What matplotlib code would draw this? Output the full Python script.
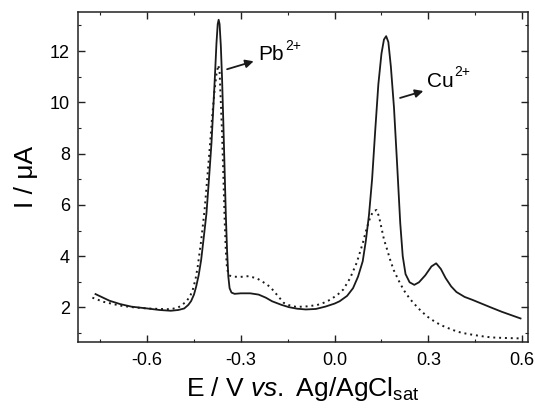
import numpy as np
import matplotlib.pyplot as plt
from matplotlib.ticker import MultipleLocator

plt.rcParams['font.family'] = ['Liberation Sans', 'DejaVu Sans']
plt.rcParams['mathtext.fontset'] = 'custom'
plt.rcParams['mathtext.rm'] = 'Liberation Sans'
plt.rcParams['mathtext.it'] = 'Liberation Sans:italic'

# solid curve
e_solid = [-0.765, -0.72, -0.686, -0.65, -0.60, -0.56, -0.524, -0.50, -0.481, -0.468,
           -0.459, -0.450, -0.443, -0.435, -0.427, -0.418, -0.41, -0.402, -0.394, -0.388,
           -0.383, -0.378, -0.374, -0.371, -0.368, -0.364, -0.360, -0.356, -0.352, -0.348,
           -0.344, -0.340, -0.336, -0.330, -0.320, -0.300, -0.270, -0.243, -0.22, -0.20,
           -0.17, -0.146, -0.12, -0.092, -0.06, -0.03, 0.0, 0.016, 0.04, 0.059,
           0.075, 0.09, 0.10, 0.11, 0.12, 0.13, 0.14, 0.15, 0.158, 0.165,
           0.172, 0.18, 0.19, 0.20, 0.21, 0.218, 0.227, 0.24, 0.255, 0.27,
           0.29, 0.31, 0.325, 0.34, 0.355, 0.373, 0.39, 0.416, 0.44, 0.47,
           0.50, 0.535, 0.565, 0.595]
i_solid = [2.52, 2.26, 2.13, 2.03, 1.96, 1.90, 1.87, 1.90, 1.96, 2.10,
           2.25, 2.50, 2.81, 3.25, 3.85, 4.80, 5.67, 7.00, 8.40, 9.80,
           11.00, 12.30, 13.05, 13.22, 13.05, 12.20, 10.90, 9.20, 7.40, 5.60,
           4.20, 3.20, 2.75, 2.58, 2.53, 2.55, 2.55, 2.50, 2.38, 2.24,
           2.10, 2.01, 1.95, 1.92, 1.94, 2.03, 2.15, 2.24, 2.45, 2.75,
           3.2, 3.8, 4.6, 5.6, 7.0, 8.9, 10.7, 11.9, 12.45, 12.58,
           12.35, 11.4, 9.8, 7.6, 5.3, 4.0, 3.3, 2.98, 2.88, 2.98,
           3.25, 3.6, 3.72, 3.5, 3.15, 2.82, 2.6, 2.41, 2.30, 2.15,
           2.0, 1.83, 1.70, 1.57]

# dotted curve
e_dot = [-0.775, -0.74, -0.686, -0.64, -0.60, -0.56, -0.524, -0.50, -0.475, -0.462,
         -0.454, -0.445, -0.438, -0.427, -0.416, -0.408, -0.40, -0.392, -0.384, -0.378,
         -0.372, -0.368, -0.364, -0.360, -0.356, -0.352, -0.348, -0.344, -0.338, -0.325,
         -0.302, -0.275, -0.248, -0.23, -0.206, -0.185, -0.163, -0.14, -0.121, -0.09,
         -0.057, -0.035, -0.014, 0.01, 0.028, 0.05, 0.071, 0.09, 0.103, 0.115,
         0.124, 0.134, 0.142, 0.15, 0.158, 0.167, 0.178, 0.189, 0.205, 0.221,
         0.24, 0.254, 0.275, 0.297, 0.32, 0.34, 0.37, 0.394, 0.42, 0.448,
         0.475, 0.502, 0.54, 0.60]
i_dot = [2.38, 2.22, 2.07, 2.0, 1.96, 1.94, 1.93, 2.0, 2.22, 2.45,
         2.68, 3.10, 3.59, 4.60, 5.80, 6.95, 8.14, 9.40, 10.48, 11.10,
         11.45, 11.20, 10.00, 8.80, 7.20, 5.50, 4.20, 3.50, 3.25, 3.20,
         3.19, 3.22, 3.13, 3.0, 2.80, 2.50, 2.18, 2.06, 2.02, 2.04,
         2.09, 2.18, 2.30, 2.50, 2.70, 3.15, 3.75, 4.50, 5.10, 5.55,
         5.75, 5.80, 5.55, 5.10, 4.65, 4.30, 3.85, 3.46, 3.05, 2.68,
         2.35, 2.15, 1.88, 1.64, 1.45, 1.31, 1.16, 1.05, 0.98, 0.92,
         0.87, 0.83, 0.81, 0.79]

xticks = [-0.6, -0.3, 0.0, 0.3, 0.6]
yticks = [2, 4, 6, 8, 10, 12]

fig = plt.figure(figsize=(5.35, 4.13), dpi=100)
ax = fig.add_axes([0.1464, 0.1712, 0.8406, 0.799])

ax.plot(e_solid, i_solid, color='#1a1a1a', lw=1.3)
ax.plot(e_dot, i_dot, color='#1a1a1a', lw=1.4, linestyle=(0, (1, 2)))

# peak labels with arrows
arrow = dict(arrowstyle='-|>', color='#1a1a1a', lw=1.3,
             mutation_scale=12, shrinkA=0, shrinkB=0)
ax.annotate('', xy=(-0.259, 11.6), xytext=(-0.344, 11.29), arrowprops=arrow)
t1 = ax.text(-0.243, 11.64, 'Pb', fontsize=15, va='baseline', ha='left')
ax.annotate('2+', xy=(1, 0), xycoords=t1, xytext=(0.5, 10.5), textcoords='offset points',
            fontsize=10, va='baseline', ha='left')
ax.annotate('', xy=(0.284, 10.44), xytext=(0.2095, 10.17), arrowprops=arrow)
t2 = ax.text(0.296, 10.6, 'Cu', fontsize=15, va='baseline', ha='left')
ax.annotate('2+', xy=(1, 0), xycoords=t2, xytext=(0.5, 10.5), textcoords='offset points',
            fontsize=10, va='baseline', ha='left')

ax.set_xlim(-0.82, 0.619)
ax.set_ylim(0.64, 13.51)
ax.set_xticks(xticks)
ax.set_xticklabels(['%.1f' % v for v in xticks])
ax.set_yticks(yticks)
ax.xaxis.set_minor_locator(MultipleLocator(0.15))
ax.yaxis.set_minor_locator(MultipleLocator(1))
ax.tick_params(which='both', direction='in', top=True, right=True, color='#222222')
ax.tick_params(which='major', length=5, width=1.0, labelsize=13)
ax.tick_params(which='minor', length=2.5, width=0.8)
ax.tick_params(axis='x', pad=7)
ax.tick_params(axis='y', pad=6)
for s in ax.spines.values():
    s.set_linewidth(1.1)
    s.set_color('#222222')

ax.set_xlabel('E / V $\\mathit{vs.}$ Ag/AgCl$_{\\mathrm{sat}}$', fontsize=19)
ax.set_ylabel('I / \u03bcA', fontsize=19)
ax.xaxis.set_label_coords(0.5, -0.1)
ax.yaxis.set_label_coords(-0.09, 0.5)

fig.savefig('out.png', dpi=100)
